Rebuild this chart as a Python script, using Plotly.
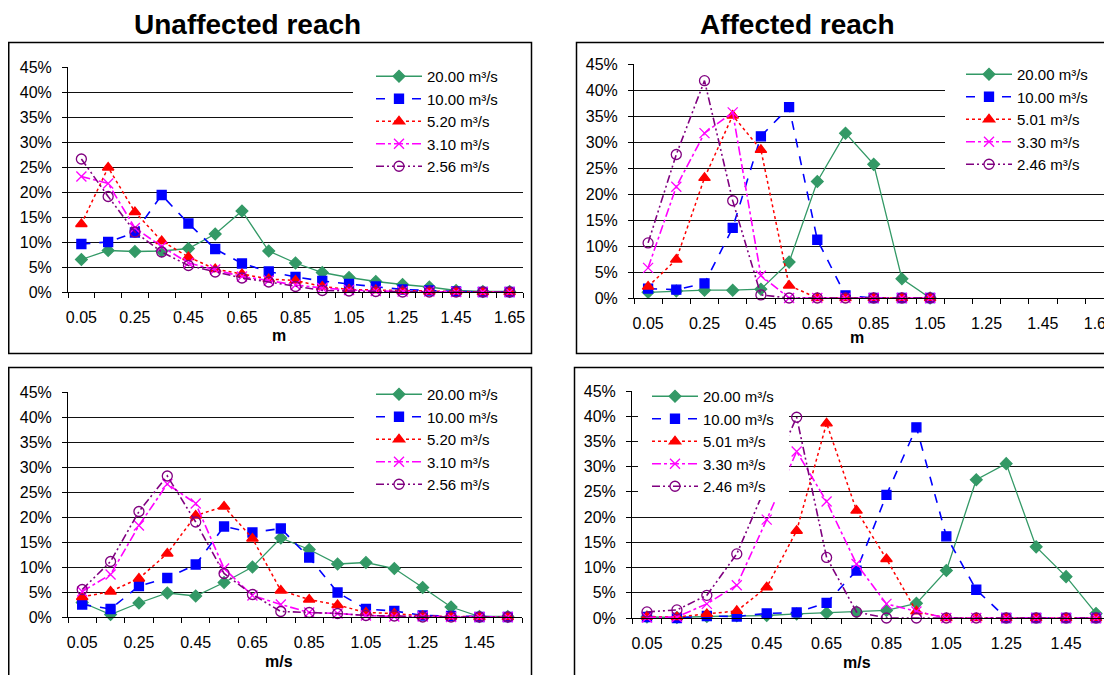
import plotly.graph_objects as go

W, H = 1112, 675
# page offset of the figure inside the browser page (body margin)
OX, OY = 8, 8

# ---------------- data ----------------
depth_cats = [0.05, 0.15, 0.25, 0.35, 0.45, 0.55, 0.65, 0.75, 0.85, 0.95,
              1.05, 1.15, 1.25, 1.35, 1.45, 1.55, 1.65]
vel_cats = [0.05, 0.15, 0.25, 0.35, 0.45, 0.55, 0.65, 0.75, 0.85, 0.95,
            1.05, 1.15, 1.25, 1.35, 1.45, 1.55]
depth_tick_vals = [0.05, 0.25, 0.45, 0.65, 0.85, 1.05, 1.25, 1.45, 1.65]
depth_tick_text = ["0.05", "0.25", "0.45", "0.65", "0.85", "1.05", "1.25", "1.45", "1.65"]
vel_tick_vals = [0.05, 0.25, 0.45, 0.65, 0.85, 1.05, 1.25, 1.45]
vel_tick_text = ["0.05", "0.25", "0.45", "0.65", "0.85", "1.05", "1.25", "1.45"]

unaff_labels = ["20.00 m³/s", "10.00 m³/s", "5.20 m³/s", "3.10 m³/s", "2.56 m³/s"]
aff_labels = ["20.00 m³/s", "10.00 m³/s", "5.01 m³/s", "3.30 m³/s", "2.46 m³/s"]

# Unaffected reach, depth (m), percent
ud_20 = [6.5, 8.3, 8.1, 8.2, 8.7, 11.6, 16.2, 8.2, 5.8, 3.9, 2.9, 2.1, 1.5, 1.0, 0.3, 0.1, 0.1]
ud_10 = [9.6, 10.0, 11.9, 19.4, 13.7, 8.6, 5.7, 4.1, 3.0, 2.2, 1.6, 1.1, 0.5, 0.3, 0.1, 0.0, 0.0]
ud_520 = [13.6, 24.9, 16.0, 10.2, 7.0, 4.6, 3.6, 2.6, 2.3, 1.1, 0.5, 0.4, 0.2, 0.1, 0.1, 0.0, 0.0]
ud_310 = [23.1, 21.7, 12.8, 9.1, 5.8, 4.5, 3.1, 2.3, 1.4, 0.8, 0.4, 0.2, 0.1, 0.1, 0.0, 0.0, 0.0]
ud_256 = [26.6, 19.1, 12.0, 8.0, 5.3, 4.0, 2.8, 2.0, 1.1, 0.3, 0.2, 0.1, 0.0, 0.0, 0.0, 0.0, 0.0]

# Affected reach, depth (m), percent
ad_20 = [1.1, 1.35, 1.5, 1.5, 1.7, 6.9, 22.4, 31.7, 25.7, 3.7, 0.0]
ad_10 = [1.8, 1.6, 2.8, 13.5, 31.1, 36.7, 11.2, 0.5, 0.0, 0.0, 0.0]
ad_501 = [2.2, 7.4, 23.1, 35.1, 28.5, 2.4, 0.0, 0.0, 0.0, 0.0, 0.0]
ad_330 = [5.8, 21.4, 31.7, 35.7, 4.3, 0.0, 0.0, 0.0, 0.0, 0.0, 0.0]
ad_246 = [10.6, 27.6, 41.8, 18.7, 0.6, 0.0, 0.0, 0.0, 0.0, 0.0, 0.0]

# Unaffected reach, velocity (m/s), percent
uv_20 = [2.9, 0.5, 2.8, 4.8, 4.2, 6.9, 10.0, 15.8, 13.5, 10.6, 10.9, 9.7, 5.9, 2.0, 0.1, 0.1]
uv_10 = [2.5, 1.6, 6.2, 7.8, 10.5, 18.1, 16.9, 17.7, 11.9, 4.9, 1.6, 1.2, 0.3, 0.2, 0.0, 0.0]
uv_520 = [4.0, 5.1, 7.7, 12.7, 20.3, 22.1, 15.7, 5.3, 3.5, 2.4, 0.9, 0.7, 0.2, 0.1, 0.0, 0.0]
uv_310 = [5.1, 8.5, 18.3, 26.6, 22.7, 9.7, 4.3, 2.5, 0.9, 0.7, 0.3, 0.1, 0.1, 0.0, 0.0, 0.0]
uv_256 = [5.5, 11.1, 21.1, 28.2, 19.0, 8.7, 4.5, 1.1, 0.9, 0.7, 0.3, 0.2, 0.0, 0.0, 0.0, 0.0]

# Affected reach, velocity (m/s), percent
av_20 = [0.2, 0.1, 0.3, 0.45, 0.5, 0.8, 1.0, 1.2, 1.5, 2.9, 9.4, 27.4, 30.6, 14.1, 8.2, 0.9]
av_10 = [0.2, 0.0, 0.4, 0.3, 0.9, 1.1, 3.0, 9.4, 24.4, 37.8, 16.2, 5.6, 0.0, 0.0, 0.0, 0.0]
av_501 = [0.3, 0.2, 0.8, 1.4, 6.1, 17.3, 38.6, 21.3, 11.7, 1.3, 0.0, 0.0, 0.0, 0.0, 0.0, 0.0]
av_330 = [0.1, 0.2, 2.8, 6.5, 19.5, 33.0, 23.1, 10.7, 2.8, 1.3, 0.0, 0.0, 0.0, 0.0, 0.0, 0.0]
av_246 = [1.2, 1.6, 4.5, 12.7, 26.5, 39.8, 12.0, 1.2, 0.0, 0.0, 0.0, 0.0, 0.0, 0.0, 0.0, 0.0]

# ---------------- styles ----------------
FONT = "Liberation Sans, Arial, sans-serif"
styles = [
    dict(color="#339966", dash="solid", symbol="diamond", size=9, lw=1.3),
    dict(color="#0000FF", dash="dash", symbol="square", size=9, lw=1.6),
    dict(color="#FF0000", dash="dot", symbol="triangle-up", size=10, lw=1.5),
    dict(color="#FF00FF", dash="dashdot", symbol="x-thin", size=10, lw=1.6),
    dict(color="#800080", dash="8px,3px,2px,3px,2px,3px", symbol="circle-open", size=10, lw=1.6),
]


def px_x(v):
    return (v - OX) / W


def px_y(v):
    return 1 - (v - OY) / H


ITEMW = 46
panels = [
    dict(cats=depth_cats, tv=depth_tick_vals, tt=depth_tick_text,
         series=[ud_20, ud_10, ud_520, ud_310, ud_256], labels=unaff_labels,
         plot=(68, 523, 67, 292), xr=[0, 1.7], xtitle="m", xt_pos=(279, 336),
         leg=(427, 77), bg=(353, 523, 61, 183)),
    dict(cats=depth_cats, tv=depth_tick_vals, tt=depth_tick_text,
         series=[ad_20, ad_10, ad_501, ad_330, ad_246], labels=aff_labels,
         plot=(634, 1113.4, 64, 298), xr=[0, 1.7], xtitle="m", xt_pos=(857, 337),
         leg=(1017, 75), bg=(945, 1125, 58, 184)),
    dict(cats=vel_cats, tv=vel_tick_vals, tt=vel_tick_text,
         series=[uv_20, uv_10, uv_520, uv_310, uv_256], labels=unaff_labels,
         plot=(68, 522, 392, 617), xr=[0, 1.6], xtitle="m/s", xt_pos=(279, 661),
         leg=(427, 395), bg=(354, 522, 386, 505)),
    dict(cats=vel_cats, tv=vel_tick_vals, tt=vel_tick_text,
         series=[av_20, av_10, av_501, av_330, av_246], labels=aff_labels,
         plot=(632, 1111, 391, 618), xr=[0, 1.6], xtitle="m/s", xt_pos=(857, 662),
         leg=(703, 397), bg=(638, 789, 383, 500)),
]

fig = go.Figure()
layout = dict(
    width=W, height=H, margin=dict(l=0, r=0, t=0, b=0, autoexpand=False),
    paper_bgcolor="white", plot_bgcolor="white",
    font=dict(family=FONT, color="black"),
    showlegend=True,
)
shapes = []
annotations = []

for i, p in enumerate(panels):
    n = "" if i == 0 else str(i + 1)
    xa, ya = "x" + n, "y" + n
    legname = "legend" + n
    l, r, t, b = p["plot"]
    for s, vals, lab in zip(styles, p["series"], p["labels"]):
        fig.add_trace(go.Scatter(
            x=p["cats"][:len(vals)], y=vals, name=lab, mode="lines+markers",
            xaxis=xa, yaxis=ya, legend=legname, cliponaxis=False,
            line=dict(color=s["color"], dash=s["dash"], width=s["lw"]),
            marker=dict(symbol=s["symbol"], size=s["size"], color=s["color"],
                        line=dict(color=s["color"], width=1.3)),
        ))
    bounds = [round(c - 0.05, 2) for c in p["cats"]] + [round(p["cats"][-1] + 0.05, 2)]
    dl, dr = px_x(l), px_x(r)
    dr_c = min(1.0, dr)
    layout["xaxis" + n] = dict(
        domain=[dl, dr_c], anchor=ya,
        range=[p["xr"][0], p["xr"][0] + (p["xr"][1] - p["xr"][0]) * (dr_c - dl) / (dr - dl)],
        showline=True, linecolor="black", linewidth=1,
        tickmode="array", tickvals=p["tv"], ticktext=p["tt"], ticks="",
        showgrid=False, zeroline=False,
        minor=dict(tickmode="array", tickvals=bounds, ticks="outside", ticklen=5,
                   tickcolor="black", tickwidth=1, showgrid=False),
        tickfont=dict(family=FONT, size=16, color="black"),
        ticklabelstandoff=11, fixedrange=True,
    )
    layout["yaxis" + n] = dict(
        domain=[px_y(b), px_y(t)], range=[0, 45], anchor=xa,
        tickmode="linear", tick0=0, dtick=5, ticksuffix="%",
        ticks="outside", ticklen=5, tickcolor="black",
        showline=True, linecolor="black", linewidth=1,
        showgrid=True, gridcolor="#111111", gridwidth=1, zeroline=False,
        tickfont=dict(family=FONT, size=16, color="black"),
        ticklabelstandoff=7, fixedrange=True,
    )
    tx0, row1 = p["leg"]
    layout[legname] = dict(
        x=px_x(tx0 - ITEMW - 10), y=px_y(row1 - 17), xanchor="left", yanchor="top",
        xref="paper", yref="paper",
        bgcolor="rgba(0,0,0,0)", borderwidth=0, itemwidth=ITEMW,
        font=dict(family=FONT, size=15, color="black"),
        traceorder="normal",
    )
    bx0, bx1, by0, by1 = p["bg"]
    shapes.append(dict(type="rect", xref="paper", yref="paper",
                       x0=px_x(bx0), x1=px_x(bx1), y0=px_y(by1), y1=px_y(by0),
                       fillcolor="white", line=dict(width=0), layer="above"))
    tx, ty = p["xt_pos"]
    annotations.append(dict(text="<b>%s</b>" % p["xtitle"], x=px_x(tx), y=px_y(ty),
                            xref="paper", yref="paper", showarrow=False,
                            xanchor="center", yanchor="middle",
                            font=dict(family=FONT, size=16, color="black")))

# panel borders (page pixels)
borders = [(8.75, 531.5, 42.5, 353.5), (576.5, 1125, 42.5, 353.5),
           (8.75, 531.5, 367.5, 690), (574.5, 1125, 367.5, 690)]
for x0, x1, y0, y1 in borders:
    shapes.append(dict(type="rect", xref="paper", yref="paper",
                       x0=px_x(x0), x1=px_x(x1), y0=px_y(y1), y1=px_y(y0),
                       line=dict(color="black", width=1.5), fillcolor="rgba(0,0,0,0)",
                       layer="below"))

# panel titles (box top kept inside the figure)
for txt, cx in (("Unaffected reach", 247), ("Affected reach", 797)):
    annotations.append(dict(text="<b>%s</b>" % txt, x=px_x(cx), y=1.0,
                            xref="paper", yref="paper", showarrow=False,
                            xanchor="center", yanchor="top", borderpad=0,
                            font=dict(family=FONT, size=28, color="black")))

layout["shapes"] = shapes
layout["annotations"] = annotations
fig.update_layout(**layout)
fig.write_html("out.html")
